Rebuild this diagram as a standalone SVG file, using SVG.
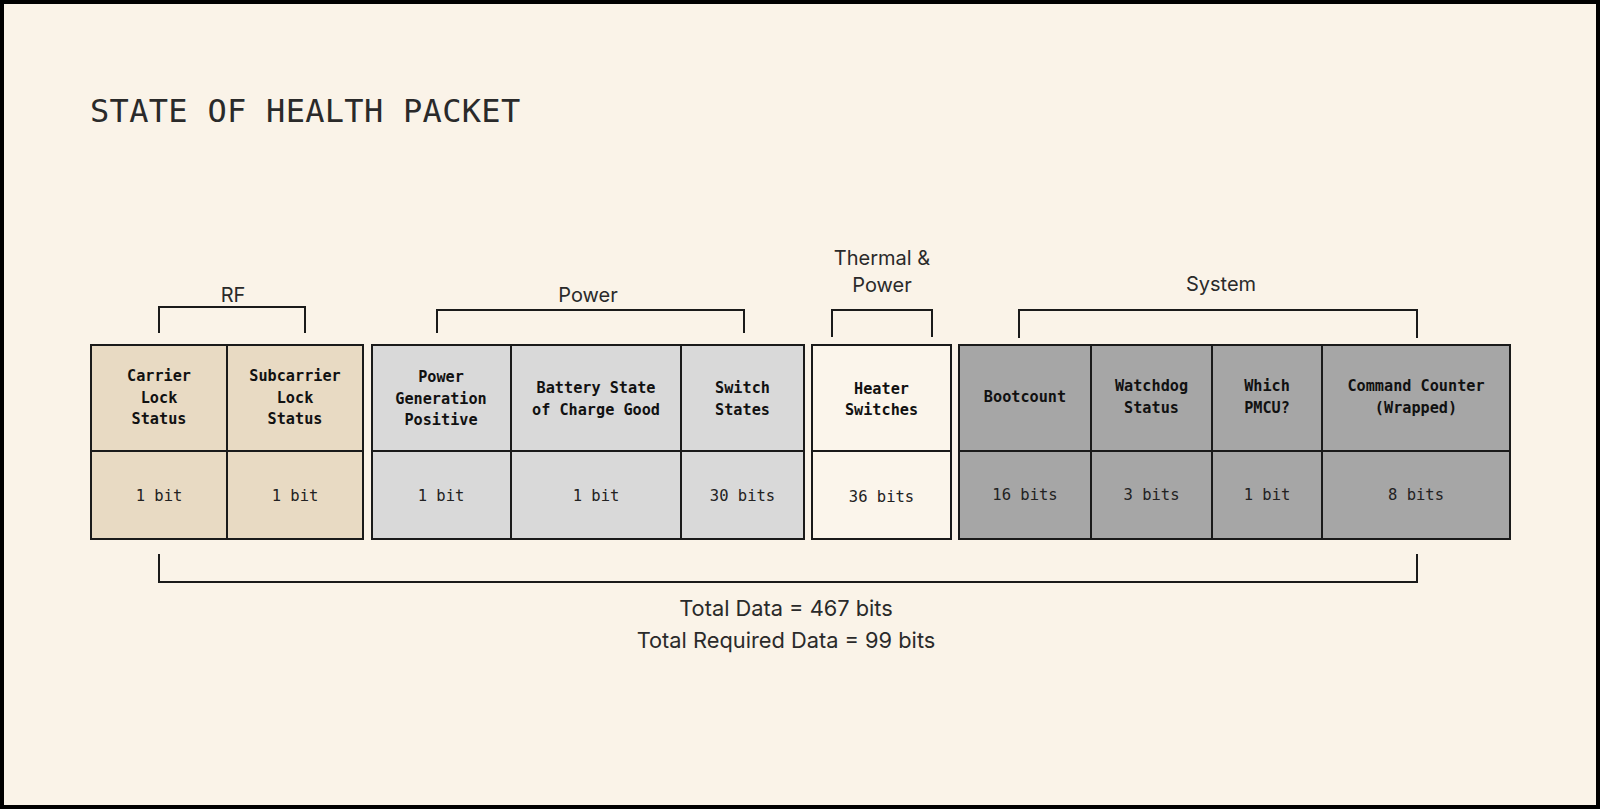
<svg xmlns="http://www.w3.org/2000/svg" width="1600" height="809" viewBox="0 0 1600 809">
<style>
.bg{fill:#FAF3E8;stroke:#000;stroke-width:4}
.cell{stroke:#1a1a1a;stroke-width:2}
.rf{fill:#E8DAC3}
.pw{fill:#D9D9D9}
.th{fill:#FBF5EB}
.sy{fill:#A6A6A6}
.br{fill:none;stroke:#1a1a1a;stroke-width:2}
.title{font-family:"DejaVu Sans Mono",monospace;font-size:32px;letter-spacing:0.3px;fill:#2a2a2a}
.grp{font-family:Inter,"Noto Sans",sans-serif;font-size:20px;fill:#2a2a2a;text-anchor:middle}
.lbl{font-family:"DejaVu Sans Mono",monospace;font-size:15.2px;font-weight:bold;fill:#111;text-anchor:middle}
.val{font-family:"DejaVu Sans Mono",monospace;font-size:15.5px;fill:#222;text-anchor:middle}
.tot{font-family:Inter,"Noto Sans",sans-serif;font-size:21.8px;fill:#2a2a2a;text-anchor:middle}
</style>
<rect class="bg" x="2" y="2" width="1596" height="805"/>
<text class="title" x="90" y="122">STATE OF HEALTH PACKET</text>

<g id="connectors">
<path class="br" d="M159,333 V307 H305 V333"/>
<path class="br" d="M437,333 V310 H744 V333"/>
<path class="br" d="M832,337 V310 H932 V337"/>
<path class="br" d="M1019,338 V310 H1417 V338"/>
<path class="br" d="M159,554 V582 H1417 V554"/>
</g>

<g id="group-labels">
<text class="grp" x="233" y="302">RF</text>
<text class="grp" x="588" y="302">Power</text>
<text class="grp" x="882" y="265">Thermal &amp;</text>
<text class="grp" x="882" y="292">Power</text>
<text class="grp" x="1221" y="291">System</text>
</g>

<g id="carrier-lock">
<rect class="cell rf" x="91" y="345" width="136" height="106"/>
<rect class="cell rf" x="91" y="451" width="136" height="88"/>
<text class="lbl" x="159" y="381">Carrier</text>
<text class="lbl" x="159" y="402.5">Lock</text>
<text class="lbl" x="159" y="424">Status</text>
<text class="val" x="159" y="501">1 bit</text>
</g>
<g id="subcarrier-lock">
<rect class="cell rf" x="227" y="345" width="136" height="106"/>
<rect class="cell rf" x="227" y="451" width="136" height="88"/>
<text class="lbl" x="295" y="381">Subcarrier</text>
<text class="lbl" x="295" y="402.5">Lock</text>
<text class="lbl" x="295" y="424">Status</text>
<text class="val" x="295" y="501">1 bit</text>
</g>

<g id="power-gen">
<rect class="cell pw" x="372" y="345" width="139" height="106"/>
<rect class="cell pw" x="372" y="451" width="139" height="88"/>
<text class="lbl" x="441" y="382">Power</text>
<text class="lbl" x="441" y="403.5">Generation</text>
<text class="lbl" x="441" y="424.5">Positive</text>
<text class="val" x="441" y="501">1 bit</text>
</g>
<g id="battery-soc">
<rect class="cell pw" x="511" y="345" width="170" height="106"/>
<rect class="cell pw" x="511" y="451" width="170" height="88"/>
<text class="lbl" x="596" y="393">Battery State</text>
<text class="lbl" x="596" y="414.5">of Charge Good</text>
<text class="val" x="596" y="501">1 bit</text>
</g>
<g id="switch-states">
<rect class="cell pw" x="681" y="345" width="123" height="106"/>
<rect class="cell pw" x="681" y="451" width="123" height="88"/>
<text class="lbl" x="742.5" y="393">Switch</text>
<text class="lbl" x="742.5" y="414.5">States</text>
<text class="val" x="742.5" y="501">30 bits</text>
</g>

<g id="heater-switches">
<rect class="cell th" x="812" y="345" width="139" height="106"/>
<rect class="cell th" x="812" y="451" width="139" height="88"/>
<text class="lbl" x="881.5" y="393.5">Heater</text>
<text class="lbl" x="881.5" y="415">Switches</text>
<text class="val" x="881.5" y="502">36 bits</text>
</g>

<g id="bootcount">
<rect class="cell sy" x="959" y="345" width="132" height="106"/>
<rect class="cell sy" x="959" y="451" width="132" height="88"/>
<text class="lbl" x="1025" y="402">Bootcount</text>
<text class="val" x="1025" y="500">16 bits</text>
</g>
<g id="watchdog">
<rect class="cell sy" x="1091" y="345" width="121" height="106"/>
<rect class="cell sy" x="1091" y="451" width="121" height="88"/>
<text class="lbl" x="1151.5" y="391">Watchdog</text>
<text class="lbl" x="1151.5" y="412.5">Status</text>
<text class="val" x="1151.5" y="500">3 bits</text>
</g>
<g id="which-pmcu">
<rect class="cell sy" x="1212" y="345" width="110" height="106"/>
<rect class="cell sy" x="1212" y="451" width="110" height="88"/>
<text class="lbl" x="1267" y="391">Which</text>
<text class="lbl" x="1267" y="412.5">PMCU?</text>
<text class="val" x="1267" y="500">1 bit</text>
</g>
<g id="command-counter">
<rect class="cell sy" x="1322" y="345" width="188" height="106"/>
<rect class="cell sy" x="1322" y="451" width="188" height="88"/>
<text class="lbl" x="1416" y="391">Command Counter</text>
<text class="lbl" x="1416" y="412.5">(Wrapped)</text>
<text class="val" x="1416" y="500">8 bits</text>
</g>

<g id="totals">
<text class="tot" x="786" y="616">Total Data = 467 bits</text>
<text class="tot" x="786" y="648">Total Required Data = 99 bits</text>
</g>
</svg>
